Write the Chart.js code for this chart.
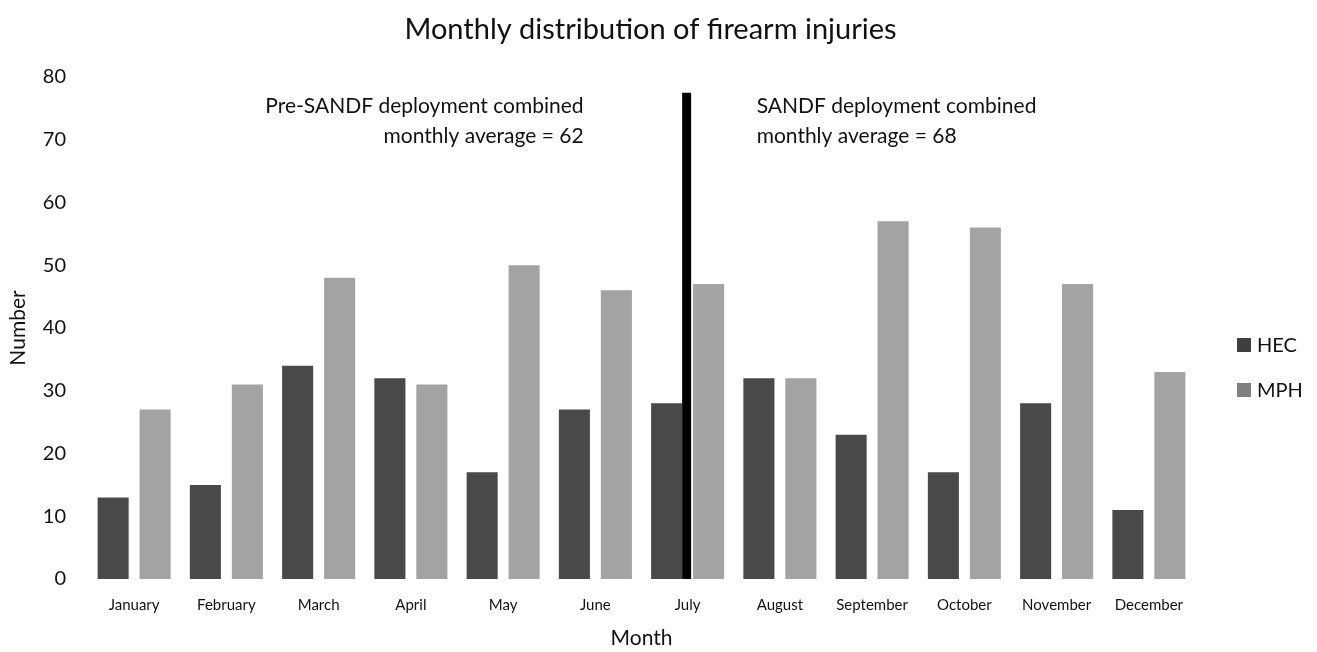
<!DOCTYPE html>
<html>
<head>
<meta charset="utf-8">
<title>Monthly distribution of firearm injuries</title>
<script src="https://cdn.jsdelivr.net/npm/chart.js@4"></script>
<style>
  html, body { margin: 0; padding: 0; background: #fff; }
  #wrap { width: 1317px; height: 652px; position: relative; }
</style>
</head>
<body>
<div id="wrap"><canvas id="chart"></canvas></div>
<script>
const MONTHS = ['January', 'February', 'March', 'April', 'May', 'June', 'July', 'August', 'September', 'October', 'November', 'December'];
const HEC = [13, 15, 34, 32, 17, 27, 28, 32, 23, 17, 28, 11];
const MPH = [27, 31, 48, 31, 50, 46, 47, 32, 57, 56, 47, 33];
const SERIES_NAMES = ['HEC', 'MPH'];
const Y_MIN = 0;
const Y_MAX = 80;
const Y_STEP = 10;

// deployment marker in July
const DIVIDER_MONTH = 'July';
const DIVIDER_VALUE = 77.5;
const TITLE = 'Monthly distribution of firearm injuries';
const NOTE_PRE = ['Pre-SANDF deployment combined', 'monthly average = 62'];
const NOTE_POST = ['SANDF deployment combined', 'monthly average = 68'];

const FONT = 'Lato, "Open Sans", sans-serif';
const BAR_COLORS = ['#494949', '#a3a3a3'];
const SWATCH_COLORS = ['#3f3f3f', '#808080'];

const extras = {
  id: 'extras',
  afterDatasetsDraw(chart) {
    const { ctx, chartArea } = chart;
    const x = chart.scales.x, y = chart.scales.y;
    const cx = x.getPixelForValue(MONTHS.indexOf(DIVIDER_MONTH)) - 1;

    ctx.save();
    // title, centred on the whole figure
    ctx.fillStyle = '#111';
    ctx.font = '29px ' + FONT;
    ctx.textAlign = 'center';
    ctx.textBaseline = 'middle';
    ctx.fillText(TITLE, chart.width / 2 - 8, 30);

    // divider line
    ctx.strokeStyle = '#000';
    ctx.lineWidth = 9;
    ctx.beginPath();
    ctx.moveTo(cx, y.getPixelForValue(0));
    ctx.lineTo(cx, y.getPixelForValue(DIVIDER_VALUE));
    ctx.stroke();

    // notes
    ctx.font = '21px ' + FONT;
    ctx.textAlign = 'right';
    NOTE_PRE.forEach((t, i) => ctx.fillText(t, cx - 103, chartArea.top + 29 + i * 30));
    ctx.textAlign = 'left';
    NOTE_POST.forEach((t, i) => ctx.fillText(t, cx + 70, chartArea.top + 29 + i * 30));

    // legend
    ctx.font = '20px ' + FONT;
    SERIES_NAMES.forEach((name, i) => {
      const ly = 345 + i * 45;
      ctx.fillStyle = SWATCH_COLORS[i];
      ctx.fillRect(1237, ly - 7, 14, 14);
      ctx.fillStyle = '#111';
      ctx.fillText(name, 1257, ly + 1);
    });
    ctx.restore();
  }
};

new Chart(document.getElementById('chart'), {
  type: 'bar',
  data: {
    labels: MONTHS,
    datasets: [
      { label: SERIES_NAMES[0], data: HEC, backgroundColor: BAR_COLORS[0] },
      { label: SERIES_NAMES[1], data: MPH, backgroundColor: BAR_COLORS[1] },
    ],
  },
  options: {
    responsive: true,
    maintainAspectRatio: false,
    animation: false,
    categoryPercentage: 0.91,
    barPercentage: 0.74,
    layout: { padding: { left: 0, right: 122, top: 77, bottom: 0 } },
    plugins: {
      legend: { display: false },
      tooltip: { enabled: false },
      title: { display: false },
    },
    scales: {
      x: {
        grid: { display: false },
        border: { display: false },
        ticks: { color: '#111', font: { family: FONT, size: 15 }, padding: 9, autoSkip: false, maxRotation: 0 },
        title: { display: true, text: 'Month', color: '#111', font: { family: FONT, size: 21 }, padding: { top: 0, bottom: 1 } },
        afterFit: (s) => { s.height = 73; },
      },
      y: {
        min: Y_MIN,
        max: Y_MAX,
        grid: { display: false },
        border: { display: false },
        ticks: { stepSize: Y_STEP, color: '#111', font: { family: FONT, size: 20 }, padding: 14 },
        title: { display: true, text: 'Number', color: '#111', font: { family: FONT, size: 21 }, padding: { top: 6, bottom: 0 } },
        afterFit: (s) => { s.width = 88; },
      },
    },
  },
  plugins: [extras],
});
</script>
</body>
</html>
